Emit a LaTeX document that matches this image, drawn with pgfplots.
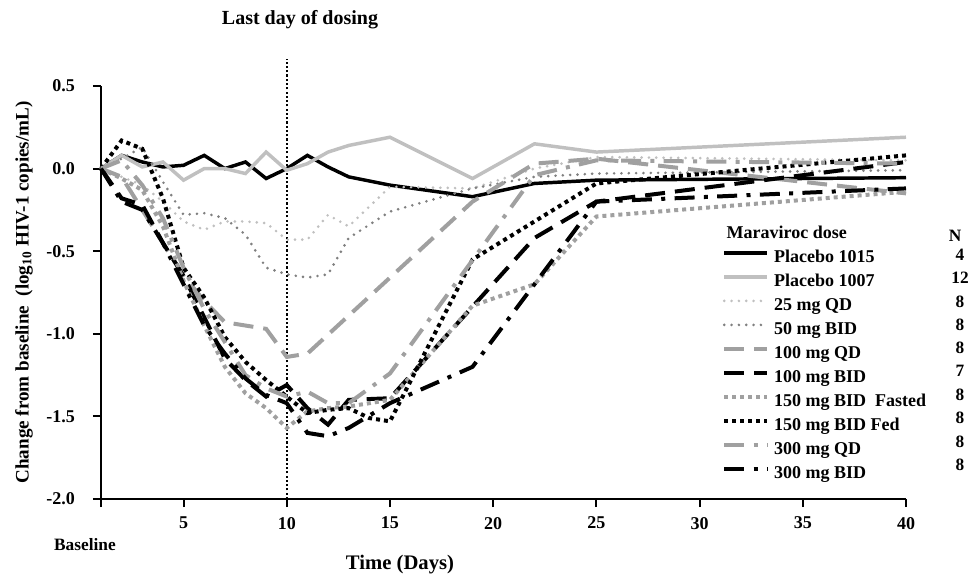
\documentclass[border=0pt]{standalone}
\usepackage{fontspec}
\setmainfont{Liberation Serif}
\usepackage{pgfplots}
\pgfplotsset{compat=1.18}
\definecolor{lg}{RGB}{192,192,192}
\definecolor{mg}{RGB}{160,160,160}
\definecolor{dg}{RGB}{128,128,128}
\begin{document}
\begin{tikzpicture}
\path[use as bounding box] (-75.75pt,-59.25pt) rectangle (651.75pt,374.25pt);
\begin{axis}[
  at={(0pt,0pt)}, anchor=south west,
  scale only axis, width=603.75pt, height=309.75pt,
  xmin=1, xmax=40, ymin=-2, ymax=0.5,
  axis x line*=bottom, axis y line*=left,
  axis line style={line width=1.5pt, black},
  tick align=outside, major tick length=6pt,
  tick style={line width=1.5pt, black},
  xtick={1,5,10,15,20,25,30,35,40},
  xticklabels={,5,10,15,20,25,30,35,40},
  ytick={-2,-1.5,-1,-0.5,0,0.5},
  yticklabels={-2.0,-1.5,-1.0,-0.5,0.0,0.5},
  ticklabel style={font=\fontsize{13.5}{15}\selectfont\bfseries},
  yticklabel style={xshift=-10pt},
  xticklabel style={yshift=-4pt},
  clip=false,
  legend image code/.code={\draw[#1] (0pt,4pt) -- (32.25pt,4pt);},
  legend style={at={(axis description cs:0.7714,0.6037)}, anchor=north west,
    draw=none, fill=none, inner sep=0pt, row sep=5.5pt,
    font=\fontsize{13.5}{15}\selectfont\bfseries,
    nodes={inner sep=0pt, text height=9.5pt, text depth=3pt},
    /tikz/every odd column/.append style={column sep=3.75pt}},
  legend cell align=left,
]
\addplot[forget plot, black, line width=1.6pt, dash pattern=on 1.6pt off 1.6pt] coordinates {(10,-2) (10,0.666)};

\addplot[black, line width=2.6pt] coordinates {
(1,0)(2,0.08)(3,0.04)(4,0.01)(5,0.02)(6,0.08)(7,0.0)(8,0.04)(9,-0.06)(10,0.0)(11,0.08)(12,0.01)(13,-0.05)(15,-0.10)(19,-0.17)(22,-0.09)(25,-0.07)(40,-0.055)};
\addlegendentry{Placebo 1015}

\addplot[lg, line width=2.6pt] coordinates {
(1,0)(2,0.08)(3,0.01)(4,0.04)(5,-0.07)(6,0.0)(7,0.0)(8,-0.03)(9,0.10)(10,-0.01)(11,0.03)(12,0.10)(13,0.14)(15,0.19)(19,-0.06)(22,0.15)(25,0.10)(40,0.19)};
\addlegendentry{Placebo 1007}

\addplot[lg, line width=2.2pt, line cap=round, dash pattern=on 0pt off 5.5pt] coordinates {
(1,0)(2,-0.05)(3,-0.1)(4,-0.2)(5,-0.32)(6,-0.37)(7,-0.32)(8,-0.32)(9,-0.33)(10,-0.43)(11,-0.43)(12,-0.28)(13,-0.35)(15,-0.11)(19,-0.12)(22,0.0)(25,0.07)(40,0.05)};
\addlegendentry{25 mg QD}

\addplot[dg, line width=2.2pt, line cap=round, dash pattern=on 0pt off 5.5pt] coordinates {
(1,0)(2,0.06)(3,0.13)(4,-0.08)(5,-0.28)(6,-0.27)(7,-0.30)(8,-0.40)(9,-0.60)(10,-0.64)(11,-0.66)(12,-0.64)(13,-0.42)(15,-0.26)(19,-0.12)(22,-0.05)(25,-0.03)(40,-0.01)};
\addlegendentry{50 mg BID}

\addplot[mg, line width=3pt, dash pattern=on 15pt off 7.5pt] coordinates {
(1,0)(2,-0.05)(3,-0.25)(4,-0.45)(5,-0.65)(6,-0.8)(7,-0.93)(8,-0.95)(9,-0.97)(10,-1.14)(11,-1.12)(19,-0.2)(22,0.03)(25,0.06)(40,-0.15)};
\addlegendentry{100 mg QD}

\addplot[black, line width=3pt, dash pattern=on 15pt off 7.5pt] coordinates {
(1,0)(2,-0.18)(3,-0.22)(4,-0.45)(5,-0.65)(6,-0.9)(7,-1.15)(8,-1.28)(9,-1.38)(10,-1.31)(11,-1.45)(12,-1.55)(13,-1.40)(15,-1.39)(22,-0.42)(25,-0.2)(40,0.04)};
\addlegendentry{100 mg BID}

\addplot[mg, line width=3pt, dash pattern=on 3pt off 3pt] coordinates {
(1,0)(2,-0.06)(3,-0.13)(4,-0.35)(5,-0.68)(6,-0.95)(7,-1.2)(8,-1.36)(9,-1.45)(10,-1.57)(11,-1.47)(12,-1.45)(13,-1.44)(15,-1.40)(19,-0.83)(22,-0.70)(25,-0.29)(40,-0.14)};
\addlegendentry{150 mg BID\ \ Fasted}

\addplot[black, line width=3pt, dash pattern=on 3pt off 3pt] coordinates {
(1,0)(2,0.17)(3,0.12)(4,-0.18)(5,-0.6)(6,-0.78)(7,-1.02)(8,-1.17)(9,-1.28)(10,-1.38)(11,-1.48)(12,-1.46)(13,-1.45)(14,-1.51)(15,-1.53)(19,-0.55)(25,-0.09)(40,0.08)};
\addlegendentry{150 mg BID Fed}

\addplot[mg, line width=3pt, dash pattern=on 15pt off 7pt on 3pt off 7pt] coordinates {
(1,0)(2,0.05)(3,-0.1)(4,-0.3)(5,-0.6)(6,-0.85)(7,-1.05)(8,-1.25)(9,-1.33)(10,-1.38)(11,-1.35)(12,-1.42)(13,-1.42)(15,-1.24)(22,-0.04)(25,0.05)(40,0.03)};
\addlegendentry{300 mg QD}

\addplot[black, line width=3pt, dash pattern=on 15pt off 7pt on 3pt off 7pt] coordinates {
(1,0)(2,-0.2)(3,-0.25)(4,-0.45)(5,-0.7)(6,-0.95)(7,-1.12)(8,-1.27)(9,-1.37)(10,-1.42)(11,-1.6)(12,-1.62)(13,-1.57)(15,-1.42)(19,-1.2)(25,-0.2)(40,-0.12)};
\addlegendentry{300 mg BID}
\end{axis}

\begin{scope}[every node/.style={font=\bfseries}]
\node[font=\fontsize{15}{17}\selectfont\bfseries] at (149.25pt,359.25pt) {Last day of dosing};
\node[rotate=90, font=\fontsize{14.3}{16}\selectfont\bfseries] at (-57.75pt,154.9pt) {Change from baseline\ \ (log\textsubscript{10} HIV-1 copies/mL)};
\node[font=\fontsize{13}{15}\selectfont\bfseries] at (-12pt,-34.5pt) {Baseline};
\node[font=\fontsize{15.5}{17}\selectfont\bfseries] at (224.25pt,-49.5pt) {Time (Days)};
\node[anchor=west, font=\fontsize{13.5}{15}\selectfont\bfseries] at (465.75pt,200.25pt) {Maraviroc dose};
\begin{scope}[every node/.style={font=\fontsize{13}{15}\selectfont\bfseries}]
\node at (640.5pt,197.25pt) {N};
\node at (644.25pt,183.4pt) {4};
\node at (644.25pt,165.75pt) {12};
\node at (644.25pt,148.1pt) {8};
\node at (644.25pt,130.5pt) {8};
\node at (644.25pt,113.6pt) {8};
\node at (644.25pt,96pt) {7};
\node at (644.25pt,78.4pt) {8};
\node at (644.25pt,60.75pt) {8};
\node at (644.25pt,43.1pt) {8};
\node at (644.25pt,25.5pt) {8};
\end{scope}
\end{scope}
\end{tikzpicture}
\end{document}
